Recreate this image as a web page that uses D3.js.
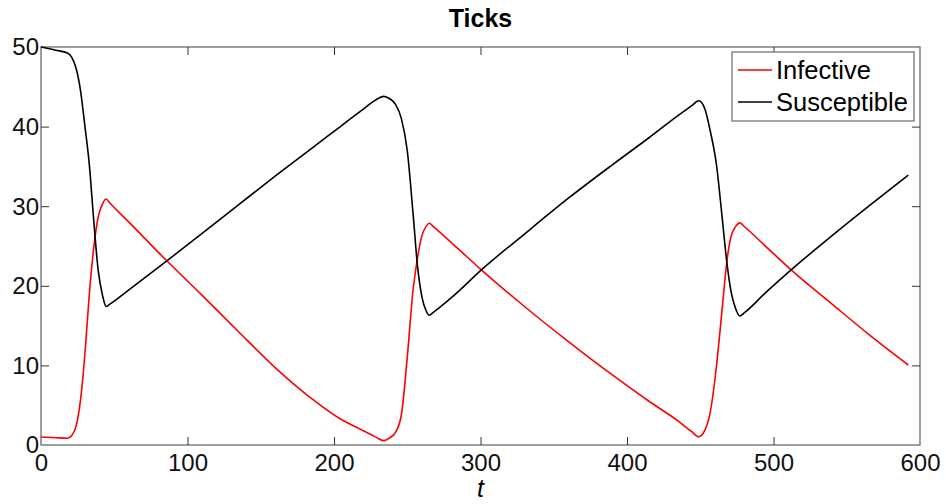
<!DOCTYPE html>
<html>
<head>
<meta charset="utf-8">
<script src="https://cdn.jsdelivr.net/npm/d3@7"></script>
<style>
  html, body { margin: 0; padding: 0; background: #fff; }
  svg { display: block; font-family: "Liberation Sans", Arial, sans-serif; }
</style>
</head>
<body>
<svg id="chart" width="946" height="504"></svg>
<script>
// ---- data ----
const title = "Ticks";
const xLabel = "t";
const seriesNames = ["Infective", "Susceptible"];
const xTicks = [0, 100, 200, 300, 400, 500, 600];
const yTicks = [0, 10, 20, 30, 40, 50];

const time = [0, 10, 18, 21, 24, 27, 30, 33, 36, 39, 42, 44.5, 47, 60, 85, 110, 135, 160, 185, 205, 220, 228, 234, 238, 242, 246, 250, 254, 257, 260, 263, 265, 268, 285, 300, 330, 360, 390, 415, 435, 444, 449, 453, 457, 461, 465, 468, 471, 474, 477, 480, 495, 512, 540, 565, 592];

const infective = [1.0, 0.92, 0.85, 1.2, 2.4, 5.7, 11.5, 19.0, 24.8, 28.6, 30.3, 30.9, 30.4, 28.0, 23.3, 18.8, 14.2, 9.7, 5.8, 3.2, 1.8, 1.05, 0.55, 0.9, 1.6, 3.8, 11.0, 19.5, 23.5, 26.3, 27.5, 27.85, 27.4, 24.6, 22.1, 17.4, 13.0, 8.8, 5.5, 3.0, 1.7, 1.04, 1.8, 4.3, 9.8, 17.2, 22.8, 26.2, 27.4, 27.9, 27.45, 24.9, 22.0, 17.7, 13.9, 10.05];

const susceptible = [50.0, 49.6, 49.25, 48.7, 47.3, 44.5, 40.0, 35.2, 28.2, 22.0, 18.8, 17.4, 17.7, 19.5, 23.0, 26.6, 30.2, 33.8, 37.3, 40.1, 42.2, 43.3, 43.8, 43.5, 42.8, 41.0, 37.0, 29.0, 22.5, 18.6, 16.8, 16.3, 16.7, 19.3, 21.9, 26.5, 31.0, 35.2, 38.6, 41.4, 42.6, 43.25, 42.3, 39.3, 35.3, 28.5, 23.2, 19.3, 17.2, 16.2, 16.6, 19.2, 22.0, 26.3, 30.0, 33.9];

const seriesColors = ["#ff0000", "#000000"];

// ---- layout ----
const W = 946, H = 504;
const margin = { left: 41, top: 47, right: 26, bottom: 59 };
const iw = W - margin.left - margin.right;
const ih = H - margin.top - margin.bottom;

const svg = d3.select("#chart");
const g = svg.append("g").attr("transform", `translate(${margin.left},${margin.top})`);

const x = d3.scaleLinear().domain([0, 600]).range([0, iw]);
const y = d3.scaleLinear().domain([0, 50]).range([ih, 0]);

const axisColor = "#6a6a6a";
const tickLen = 8;

// box
g.append("rect").attr("x", 0).attr("y", 0).attr("width", iw).attr("height", ih)
  .attr("fill", "none").attr("stroke", axisColor).attr("stroke-width", 1.3);

function styleAxis(sel, showLabels) {
  sel.select(".domain").remove();
  sel.selectAll(".tick line").attr("stroke", "#333").attr("stroke-width", 1);
  sel.selectAll(".tick text").attr("fill", "#111")
    .style("font-size", "24px")
    .style("font-family", '"Liberation Sans", Arial, sans-serif');
  if (!showLabels) sel.selectAll(".tick text").remove();
}

// bottom axis (ticks inside)
const xb = g.append("g").attr("transform", `translate(0,${ih})`)
  .call(d3.axisBottom(x).tickValues(xTicks).tickSize(-tickLen).tickPadding(tickLen + 1).tickFormat(d3.format("d")));
styleAxis(xb, true);
xb.selectAll(".tick").filter(d => d === 0 || d === 600).select("line").remove();

// top axis ticks
const xt = g.append("g")
  .call(d3.axisTop(x).tickValues(xTicks.filter(d => d > 0 && d < 600)).tickSize(-tickLen));
styleAxis(xt, false);

// left axis
const yl = g.append("g")
  .call(d3.axisLeft(y).tickValues(yTicks).tickSize(-tickLen).tickPadding(2).tickFormat(d3.format("d")));
styleAxis(yl, true);
yl.selectAll(".tick").filter(d => d === 0 || d === 50).select("line").remove();
yl.selectAll(".tick text").attr("dy", "0.33em");

// right axis ticks
const yr = g.append("g").attr("transform", `translate(${iw},0)`)
  .call(d3.axisRight(y).tickValues(yTicks.filter(d => d > 0 && d < 50)).tickSize(-tickLen));
styleAxis(yr, false);

// lines
const data = [infective, susceptible];
const line = d3.line()
  .x((d, i) => x(time[i]))
  .y(d => y(d))
  .curve(d3.curveMonotoneX);

g.append("g").selectAll("path").data(data).join("path")
  .attr("d", d => line(d))
  .attr("fill", "none")
  .attr("stroke", (d, i) => seriesColors[i])
  .attr("stroke-width", 1.6)
  .attr("stroke-linejoin", "round");

// title
svg.append("text").attr("x", margin.left + iw / 2).attr("y", 27)
  .attr("text-anchor", "middle").style("font-weight", "bold").style("font-size", "25px")
  .attr("fill", "#000").text(title);

// x label
svg.append("text").attr("x", margin.left + iw / 2).attr("y", 497)
  .attr("text-anchor", "middle").style("font-style", "italic").style("font-size", "25px")
  .attr("fill", "#000").text(xLabel);

// legend
const lg = svg.append("g").attr("transform", "translate(732,52)");
lg.append("rect").attr("width", 182).attr("height", 69)
  .attr("fill", "#fff").attr("stroke", axisColor).attr("stroke-width", 1.2);
seriesNames.forEach((name, i) => {
  const cy = 18 + i * 32;
  lg.append("line").attr("x1", 6).attr("x2", 40).attr("y1", cy).attr("y2", cy)
    .attr("stroke", seriesColors[i]).attr("stroke-width", 1.6);
  lg.append("text").attr("x", 44).attr("y", cy + 9)
    .style("font-size", "25.5px").attr("fill", "#000").text(name);
});
</script>
</body>
</html>
